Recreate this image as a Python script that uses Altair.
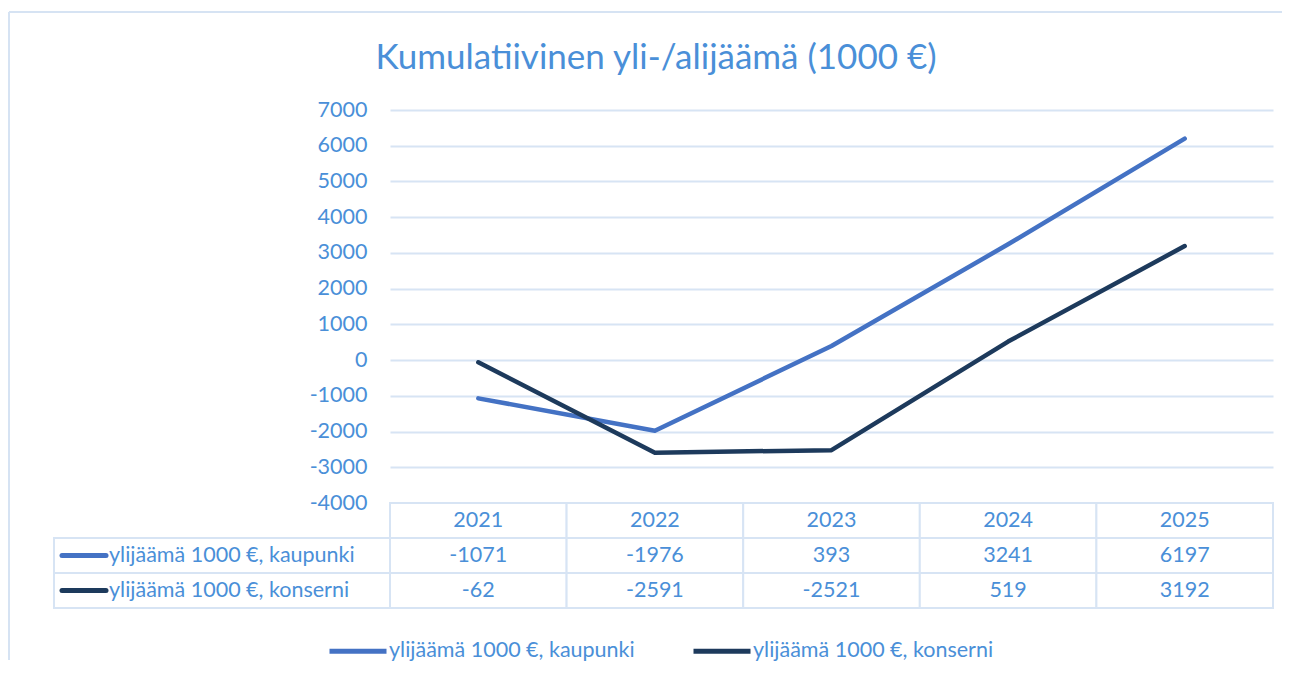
import altair as alt
import pandas as pd

years = ["2021", "2022", "2023", "2024", "2025"]
kaupunki = [-1071, -1976, 393, 3241, 6197]
konserni = [-62, -2591, -2521, 519, 3192]
series_names = ["ylijäämä 1000 €, kaupunki", "ylijäämä 1000 €, konserni"]
series_colors = ["#4472C4", "#1D3A5C"]
y_ticks = [-4000, -3000, -2000, -1000, 0, 1000, 2000, 3000, 4000, 5000, 6000, 7000]
title_text = "Kumulatiivinen yli-/alijäämä (1000 €)"

TXT = "#4A8FD8"
GRID = "#D7E4F4"
FONT = "Lato"
FS = 21.5
W, H = 883, 393
ROW_H = 35

lines = pd.DataFrame({
    "year": years * 2,
    "value": kaupunki + konserni,
    "series": [series_names[0]] * len(years) + [series_names[1]] * len(years),
})

one = pd.DataFrame({"a": [0]})

x_point = alt.X("year:O", scale=alt.Scale(type="point", domain=years, padding=0.5), axis=None)

frame_top = alt.Chart(one).mark_rule(color="#D6E3F3", strokeWidth=2).encode(
    x=alt.value(-381), x2=alt.value(892), y=alt.value(-98))
frame_left = alt.Chart(one).mark_rule(color="#D6E3F3", strokeWidth=2).encode(
    x=alt.value(-381), y=alt.value(-98), y2=alt.value(550))
title = alt.Chart(one).mark_text(text=title_text, font=FONT, fontSize=35, color=TXT,
                                 align="center", baseline="middle").encode(
    x=alt.value(266), y=alt.value(-52))

series_scale = alt.Scale(domain=series_names, range=series_colors)

line = alt.Chart(lines).mark_line(strokeWidth=4.5, strokeCap="round", strokeJoin="round").encode(
    x=x_point,
    y=alt.Y("value:Q", scale=alt.Scale(domain=[-4000, 7000], nice=False, zero=False),
            axis=alt.Axis(values=y_ticks, grid=True, gridColor=GRID, gridWidth=2, domain=False,
                          ticks=False, labelFont=FONT, labelFontSize=FS, labelColor=TXT,
                          labelPadding=23, title=None, labelExpr="'' + datum.value")),
    color=alt.Color("series:N", scale=series_scale,
                    legend=alt.Legend(orient="none", legendX=-63, legendY=510, direction="horizontal",
                                      title=None, symbolType="stroke", symbolStrokeWidth=5,
                                      symbolSize=3249, labelFont=FONT, labelFontSize=FS,
                                      labelColor=TXT, labelOffset=0, columnPadding=48,
                                      labelLimit=400)),
)

top = alt.layer(frame_top, frame_left, title, line).properties(width=W, height=H)

# ---- data table ----
row_keys = ["hdr", "r1", "r2"]
cells = pd.DataFrame({
    "row": ["hdr"] * 5 + ["r1"] * 5 + ["r2"] * 5,
    "year": years * 3,
    "text": years + [str(v) for v in kaupunki] + [str(v) for v in konserni],
})
labels = pd.DataFrame({"row": ["r1", "r2"], "series": series_names})

x_band = alt.X("year:O", scale=alt.Scale(type="band", domain=years, paddingInner=0, paddingOuter=0), axis=None)
y_band = alt.Y("row:O", scale=alt.Scale(domain=row_keys, paddingInner=0, paddingOuter=0), axis=None)

cell_rects = alt.Chart(cells).mark_rect(fill="white", stroke=GRID, strokeWidth=2).encode(x=x_band, y=y_band)
cell_text = alt.Chart(cells).mark_text(font=FONT, fontSize=FS, color=TXT, baseline="middle").encode(
    x=x_band, y=y_band, text="text:N")
label_rects = alt.Chart(labels).mark_rect(fill="white", stroke=GRID, strokeWidth=2).encode(
    x=alt.value(-336), x2=alt.value(0), y=y_band)
label_syms = alt.Chart(labels).mark_rule(strokeWidth=5, strokeCap="round").encode(
    x=alt.value(-328), x2=alt.value(-284), y=y_band,
    stroke=alt.Stroke("series:N", scale=series_scale, legend=None))
label_text = alt.Chart(labels).mark_text(font=FONT, fontSize=FS, color=TXT, align="left",
                                         baseline="middle").encode(
    x=alt.value(-281), y=y_band, text="series:N")

bottom = alt.layer(cell_rects, cell_text, label_rects, label_syms, label_text).properties(
    width=W, height=ROW_H * 3)

chart = alt.vconcat(top, bottom, spacing=0, bounds="flush").properties(
    padding={"left": 0, "top": 3, "right": 0, "bottom": 0}
).configure_view(stroke=None)

chart.save("out.html", embed_options={"renderer": "svg", "actions": False})
